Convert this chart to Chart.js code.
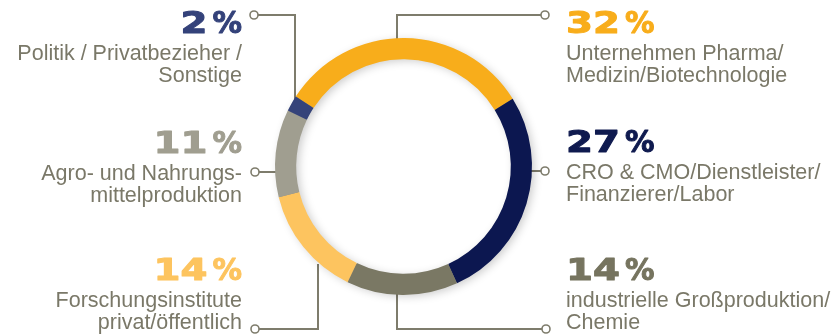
<!DOCTYPE html>
<html lang="de">
<head>
<meta charset="utf-8">
<title>Verteilung Branchen</title>
<script src="https://cdn.jsdelivr.net/npm/chart.js@4/dist/chart.umd.min.js"></script>
<style>
    html, body { margin: 0; padding: 0; background: #ffffff; }
    #wrap { position: relative; width: 832px; height: 335px; }
</style>
</head>
<body>
<div id="wrap"><canvas id="ring" width="832" height="335"></canvas></div>
<script>
// Data (clockwise, starting at the yellow segment)
const categories = [
    ['Unternehmen Pharma/', 'Medizin/Biotechnologie'],
    ['CRO & CMO/Dienstleister/', 'Finanzierer/Labor'],
    ['industrielle Großproduktion/', 'Chemie'],
    ['Forschungsinstitute', 'privat/öffentlich'],
    ['Agro- und Nahrungs-', 'mittelproduktion'],
    ['Politik / Privatbezieher /', 'Sonstige']
];
const values = [32, 27, 14, 14, 11, 2];
const segmentColors = ['#f8ad1b', '#0c1750', '#7a7864', '#fdc45f', '#a09e90', '#35437a'];
const percentColors = ['#f8ad1b', '#0f1a4f', '#76745f', '#fdc45f', '#a09e90', '#34427a'];

// Label layout: text anchor, alignment, baseline of the percent line, leader line
const labelLayout = [
    { x: 566, y: 33,  align: 'left',  dot: [545, 15],  path: [[541, 15], [397, 15], [397, 40]] },
    { x: 566, y: 152, align: 'left',  dot: [545, 171], path: [[541, 171], [529, 171]] },
    { x: 566, y: 280, align: 'left',  dot: [546, 329], path: [[542, 329], [397, 329], [397, 292]] },
    { x: 242, y: 280, align: 'right', dot: [255, 329], path: [[259, 329], [318, 329], [318, 264]] },
    { x: 242, y: 153, align: 'right', dot: [255, 172], path: [[259, 172], [278, 172]] },
    { x: 242, y: 33,  align: 'right', dot: [254, 15],  path: [[258, 15], [295, 15], [295, 102]] }
];

const lineColor = '#7e7c6c';
const textColor = '#7a7868';

const ringShadow = {
    id: 'ringShadow',
    beforeDatasetsDraw(chart) {
        const ctx = chart.ctx;
        // leader lines
        ctx.save();
        ctx.strokeStyle = lineColor;
        ctx.lineWidth = 2;
        labelLayout.forEach(l => {
            ctx.beginPath();
            l.path.forEach((p, i) => i ? ctx.lineTo(p[0], p[1]) : ctx.moveTo(p[0], p[1]));
            ctx.stroke();
            ctx.beginPath();
            ctx.arc(l.dot[0], l.dot[1], 4, 0, Math.PI * 2);
            ctx.fillStyle = '#ffffff';
            ctx.fill();
            ctx.lineWidth = 1.6;
            ctx.stroke();
            ctx.lineWidth = 2;
        });
        ctx.restore();

        // soft shadow under the ring
        const arc = chart.getDatasetMeta(0).data[0];
        if (!arc) return;
        ctx.save();
        ctx.beginPath();
        ctx.arc(arc.x, arc.y, arc.outerRadius - 1, 0, Math.PI * 2);
        ctx.arc(arc.x, arc.y, arc.innerRadius + 1, 0, Math.PI * 2, true);
        ctx.shadowColor = 'rgba(0,0,0,0.22)';
        ctx.shadowBlur = 10;
        ctx.shadowOffsetX = 3;
        ctx.shadowOffsetY = 2;
        ctx.fillStyle = '#888';
        ctx.fill();
        ctx.restore();
    },
    afterDraw(chart) {
        const ctx = chart.ctx;
        ctx.save();
        ctx.textBaseline = 'alphabetic';
        labelLayout.forEach((l, i) => {
            // percent figure: stretched digits, then the % sign after a small gap
            const num = String(values[i]);
            ctx.font = 'bold 31px "DejaVu Sans"';
            ctx.fillStyle = percentColors[i];
            ctx.strokeStyle = percentColors[i];
            ctx.lineWidth = 1;
            ctx.lineJoin = 'round';
            ctx.textAlign = 'left';
            const sx = 1.25;
            const gap = 5;
            const numW = ctx.measureText(num).width * sx;
            const pctW = ctx.measureText('%').width * 0.95;
            const total = numW + gap + pctW;
            const startX = l.align === 'left' ? l.x : l.x - total;
            ctx.save();
            ctx.translate(startX, l.y);
            ctx.scale(sx, 1);
            ctx.fillText(num, 0, 0);
            ctx.strokeText(num, 0, 0);
            ctx.restore();
            ctx.save();
            ctx.translate(startX + numW + gap, l.y);
            ctx.scale(0.95, 1);
            ctx.fillText('%', 0, 0);
            ctx.strokeText('%', 0, 0);
            ctx.restore();

            // category text
            ctx.font = '21.5px "Liberation Sans"';
            ctx.fillStyle = textColor;
            ctx.textAlign = l.align;
            categories[i].forEach((line, j) => {
                ctx.fillText(line, l.x, l.y + 27 + j * 22);
            });
        });
        ctx.restore();
    }
};

new Chart(document.getElementById('ring'), {
    type: 'doughnut',
    data: {
        labels: categories.map(c => c.join(' ')),
        datasets: [{
            data: values,
            backgroundColor: segmentColors,
            borderWidth: 0,
            hoverOffset: 0
        }]
    },
    options: {
        responsive: false,
        animation: false,
        cutout: '83.5%',
        rotation: -57,
        layout: { padding: { left: 275, right: 300, top: 38, bottom: 40 } },
        plugins: {
            legend: { display: false },
            tooltip: { enabled: false }
        }
    },
    plugins: [ringShadow]
});
</script>
</body>
</html>
